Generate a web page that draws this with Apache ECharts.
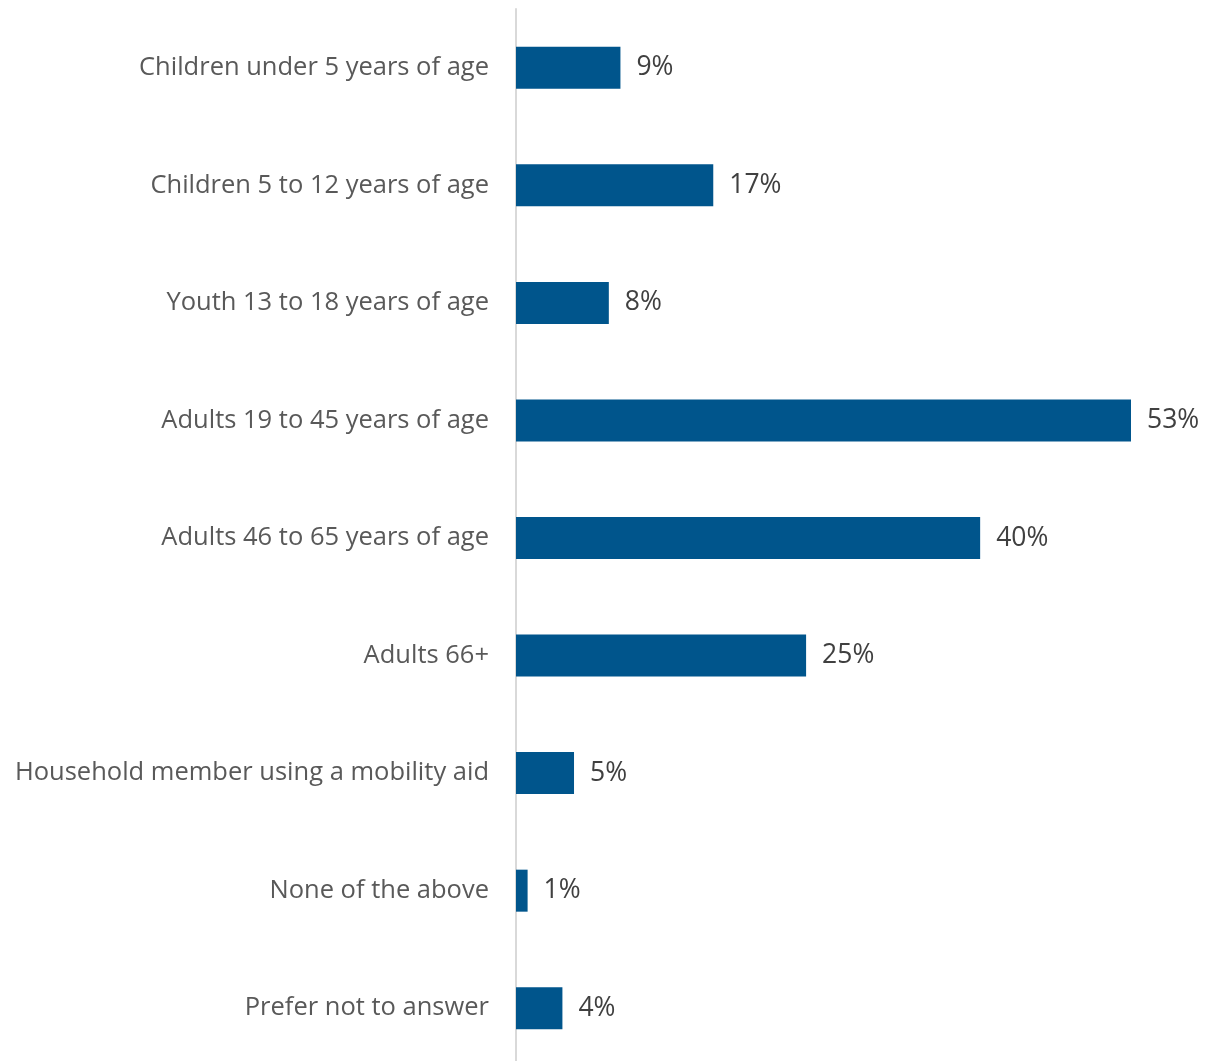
<!DOCTYPE html>
<html>
<head>
<meta charset="utf-8">
<style>
  html, body { margin: 0; padding: 0; background: #ffffff; overflow: hidden; }
  /* the plot runs a few pixels past the bottom edge of the window */
  #chart { width: 1208px; height: 1067px; }
</style>
<script src="https://cdn.jsdelivr.net/npm/echarts@6/dist/echarts.min.js"></script>
</head>
<body>
<div id="chart"></div>
<script>
// Household members by age group / status (share of respondents, %)
const categories = [
  'Children under 5 years of age',
  'Children 5 to 12 years of age',
  'Youth 13 to 18 years of age',
  'Adults 19 to 45 years of age',
  'Adults 46 to 65 years of age',
  'Adults 66+',
  'Household member using a mobility aid',
  'None of the above',
  'Prefer not to answer'
];
const shares = [9, 17, 8, 53, 40, 25, 5, 1, 4];

const fontFamily = '"Open Sans", "Noto Sans", sans-serif';
const chart = echarts.init(document.getElementById('chart'), null, { renderer: 'canvas' });

chart.setOption({
  animation: false,
  backgroundColor: '#ffffff',
  grid: { left: 516, right: 77, top: 9, bottom: 0, containLabel: false },
  xAxis: {
    type: 'value',
    min: 0,
    max: 53,
    show: false
  },
  yAxis: {
    type: 'category',
    data: categories,
    inverse: true,
    axisLine: { show: true, lineStyle: { color: '#d9d9d9', width: 2 } },
    axisTick: { show: false },
    axisLabel: {
      color: '#595959',
      fontSize: 25.5,
      fontFamily: fontFamily,
      margin: 27
    }
  },
  series: [{
    type: 'bar',
    data: shares,
    barWidth: 42,
    itemStyle: { color: '#00558c' },
    label: {
      show: true,
      position: 'right',
      distance: 16,
      formatter: p => p.value + '%',
      color: '#404040',
      fontSize: 26.5,
      fontFamily: fontFamily
    }
  }]
});
</script>
</body>
</html>
